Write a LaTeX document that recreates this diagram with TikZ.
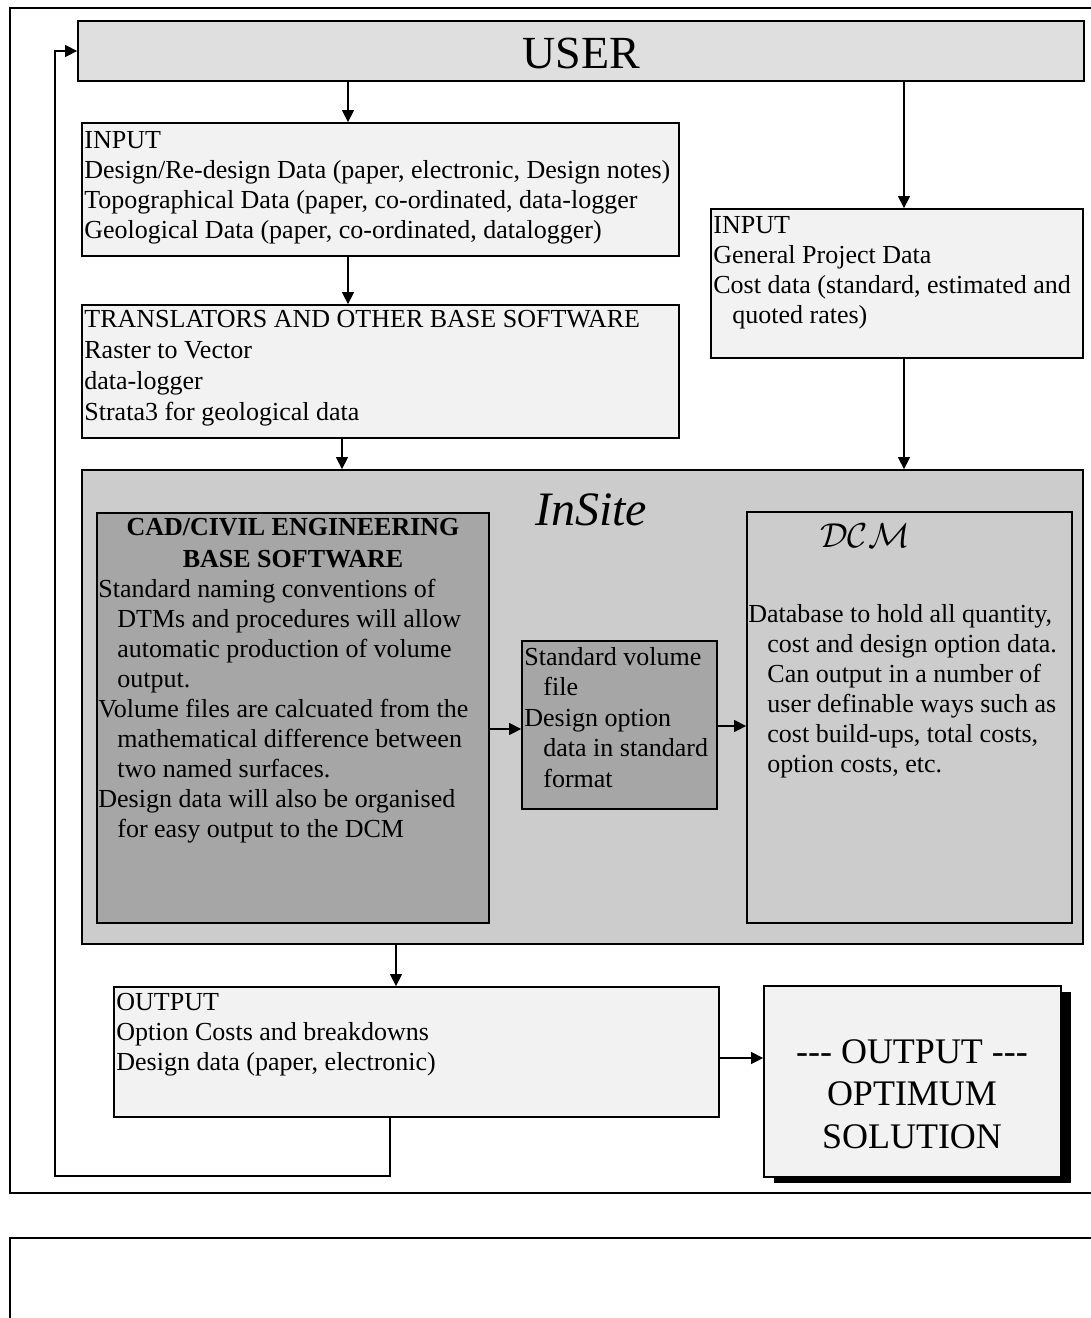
\documentclass[tikz,border=0pt]{standalone}
\usepackage{fontspec}
\setmainfont{Liberation Serif}
\usetikzlibrary{arrows.meta,fit,shadows}

\definecolor{gUser}{HTML}{DFDFDF}
\definecolor{gLight}{HTML}{F2F2F2}
\definecolor{gMid}{HTML}{CCCCCC}
\definecolor{gDark}{HTML}{A6A6A6}
\newcommand{\ind}{\hspace*{9.5pt}}

\begin{document}
\begin{tikzpicture}[x=0.5pt,y=-0.5pt,
		box/.style={draw,line width=0.9pt,inner sep=0pt},
		txt/.style={anchor=base west,align=left,inner sep=0pt,font=\fontsize{13}{15}\selectfont},
		arr/.style={-{Triangle[length=6pt,width=6pt]},line width=0.7pt}]
	\useasboundingbox (0,0) rectangle (1091,1318);
	% page frames
	\draw[line width=0.9pt] (1100,8) -- (10,8) -- (10,1193) -- (1100,1193);
	\draw[line width=0.9pt] (1100,1238) -- (10,1238) -- (10,1330);

	% text nodes sit on the baseline of their last line
	\node[box,fill=gUser,fit={(78,21)(1084,81)}] (User) {};
	\node[font=\fontsize{23}{26}\selectfont,anchor=base] (tUser) at (581,68) {USER};

	\node[box,fill=gLight,fit={(82,123)(679,256)}] (InA) {};
	\node[txt] (tInA) at (84,238) {INPUT\\Design/Re-design Data (paper, electronic, Design notes)\\Topographical Data (paper, co-ordinated, data-logger\\Geological Data (paper, co-ordinated, datalogger)};

	\node[box,fill=gLight,fit={(82,305)(679,438)}] (Trans) {};
	\node[txt,font=\fontsize{13}{15.4}\selectfont] (tTrans) at (84,420) {TRANSLATORS AND OTHER BASE SOFTWARE\\Raster to Vector\\data-logger\\Strata3 for geological data};

	\node[box,fill=gLight,fit={(711,209)(1083,358)}] (InB) {};
	\node[txt] (tInB) at (713,323) {INPUT\\General Project Data\\Cost data (standard, estimated and\\\ind quoted rates)};

	\node[box,fill=gMid,fit={(82,470)(1083,944)}] (Site) {};
	\node[font=\fontsize{24}{28}\selectfont\itshape,anchor=base] (tSite) at (591,525) {InSite};

	\node[box,fill=gDark,fit={(97,513)(489,923)}] (Cad) {};
	\node[font=\fontsize{13}{16}\selectfont\bfseries,align=center,anchor=base] (tCadH) at (293,567) {CAD/CIVIL ENGINEERING\\BASE SOFTWARE};
	\node[txt] (tCad) at (98,837) {Standard naming conventions of\\\ind DTMs and procedures will allow\\\ind automatic production of volume\\\ind output.\\Volume files are calcuated from the\\\ind mathematical difference between\\\ind two named surfaces.\\Design data will also be organised\\\ind for easy output to the DCM};

	\node[box,fill=gDark,fit={(522,641)(717,809)}] (Vol) {};
	\node[txt,font=\fontsize{13}{15.25}\selectfont] (tVol) at (524,787) {Standard volume\\\ind file\\Design option\\\ind data in standard\\\ind format};

	\node[box,fill=gMid,fit={(747,512)(1072,923)}] (Dcm) {};
	\node[font=\fontsize{19}{22}\selectfont,anchor=base] (tDcmH) at (865,547) {$\mathcal{DCM}$};
	\node[txt] (tDcm) at (748,772) {Database to hold all quantity,\\\ind cost and design option data.\\\ind Can output in a number of\\\ind user definable ways such as\\\ind cost build-ups, total costs,\\\ind option costs, etc.};

	\node[box,fill=gLight,fit={(114,987)(719,1117)}] (Out) {};
	\node[txt] (tOut) at (116,1070) {OUTPUT\\Option Costs and breakdowns\\Design data (paper, electronic)};

	\node[box,fill=gLight,drop shadow={shadow xshift=5pt,shadow yshift=-3pt,fill=black,opacity=1},fit={(764,986)(1061,1177)}] (Opt) {};
	\node[font=\fontsize{18}{21.25}\selectfont,align=center,anchor=base] (tOpt) at (912,1148) {-{}-{}- OUTPUT -{}-{}-\\OPTIMUM\\SOLUTION};

	\draw[arr] (User.south -| 348,0) -- (InA.north -| 348,0);
	\draw[arr] (InA.south -| 348,0) -- (Trans.north -| 348,0);
	\draw[arr] (Trans.south -| 342,0) -- (Site.north -| 342,0);
	\draw[arr] (User.south -| 904,0) -- (InB.north -| 904,0);
	\draw[arr] (InB.south -| 904,0) -- (Site.north -| 904,0);
	\draw[arr] (Cad.east |- 0,729) -- (Vol.west |- 0,729);
	\draw[arr] (Vol.east |- 0,726) -- (Dcm.west |- 0,726);
	\draw[arr] (Site.south -| 396,0) -- (Out.north -| 396,0);
	\draw[arr] (Out.east |- 0,1058) -- (Opt.west |- 0,1058);
	\draw[arr] (Out.south -| 390,0) -- (390,1176) -- (55,1176) -- (55,51) -- (User.west |- 0,51);
\end{tikzpicture}
\end{document}
